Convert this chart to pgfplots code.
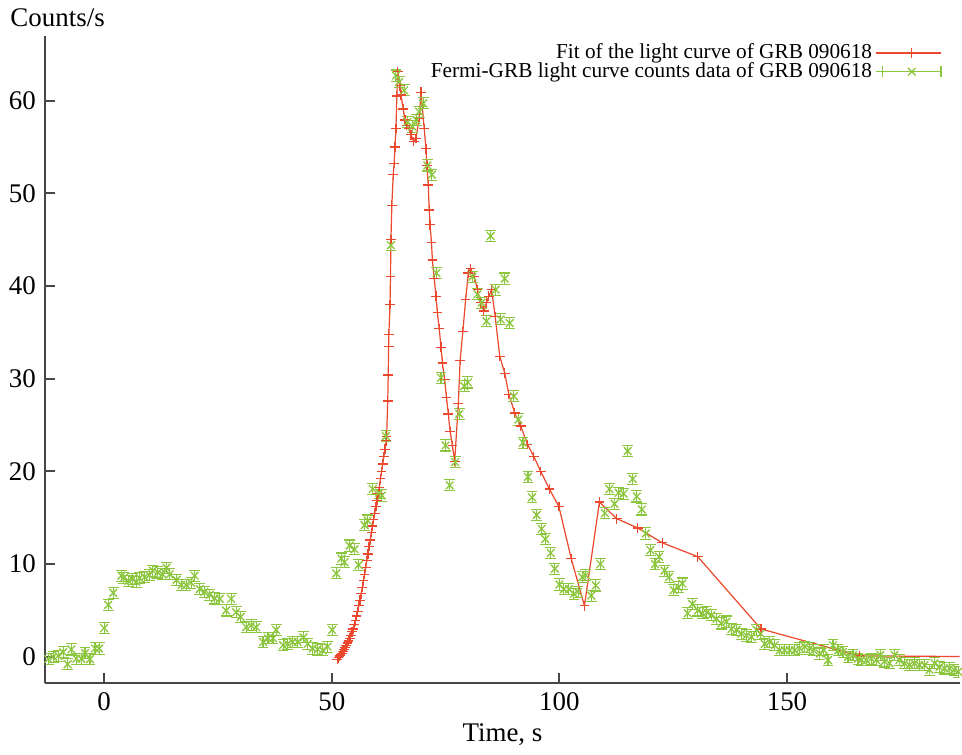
\documentclass[border=0pt]{standalone}
\usepackage{fontspec}
\setmainfont{Liberation Serif}
\usepackage{pgfplots}
\pgfplotsset{compat=1.18}
\definecolor{fitred}{RGB}{236,72,45}
\definecolor{datagreen}{RGB}{140,198,62}
\definecolor{axisgray}{RGB}{70,70,70}
\pgfplotsset{
  fitlegend/.style={legend image code/.code={
    \path (0pt,0pt) -- (2.5pt,0pt);
    \draw[mark repeat=2,mark phase=2,##1]
      plot coordinates {(2.5pt,0pt) (13.3pt,0pt) (24.1pt,0pt)};}},
  datalegend/.style={legend image code/.code={
    \path (0pt,0pt) -- (2.5pt,0pt);
    \draw[draw=datagreen, line width=0.5pt] (2.5pt,-2pt) -- (2.5pt,2pt)
      (2.5pt,0pt) -- (24.1pt,0pt) (24.1pt,-2pt) -- (24.1pt,2pt);
    \draw[mark repeat=2,mark phase=2,##1]
      plot coordinates {(2.5pt,0pt) (13.3pt,0pt) (24.1pt,0pt)};}},
}
\begin{document}
\begin{tikzpicture}
\begin{axis}[
  scale only axis,
  width=339.6pt, height=240.4pt,
  xmin=-12.9, xmax=187.9, ymin=-2.8, ymax=67,
  axis x line=bottom, axis y line=left,
  axis line style={-, line width=0.7pt, draw=axisgray},
  tick style={line width=0.7pt, draw=axisgray},
  tick align=inside, major tick length=3.5pt,
  xtick={0,50,100,150}, ytick={0,10,...,60},
  /pgf/number format/assume math mode=true,
  tick label style={font=\fontsize{10}{12}\selectfont},
  xlabel={Time, s},
  xlabel style={font=\fontsize{10}{12}\selectfont, yshift=2pt},
  ylabel={Counts/s},
  every axis y label/.style={at={(rel axis cs:0,1)}, anchor=base west,
    xshift=-16.5pt, yshift=3.3pt, font=\fontsize{10}{12}\selectfont},
  legend plot pos=right,
  legend cell align=right,
  legend style={at={(rel axis cs:1,1)}, anchor=north east, xshift=-3.5pt, yshift=0.5pt,
    draw=none, fill=none, font=\fontsize{7.9}{8}\selectfont,
    row sep=-2.5pt, nodes={inner sep=1.2pt}},
]
% fit of the light curve
\addplot[fitred, draw=fitred, line width=0.45pt, mark=+, mark size=1.8pt, fitlegend]
coordinates {
(51.2,-0.3) (51.45,-0.1) (51.7,0.1) (51.95,0.2) (52.2,0.4) (52.45,0.6)
(52.7,0.8) (52.95,1.0) (53.2,1.2) (53.45,1.5) (53.7,1.7) (53.95,2.0)
(54.2,2.3) (54.45,2.7) (54.7,3.0) (54.95,3.5) (55.2,3.9) (55.45,4.4)
(55.7,4.9) (55.95,5.5) (56.2,6.1) (56.45,6.8) (56.7,7.5) (56.95,8.2)
(57.2,8.9) (57.45,9.6) (57.7,10.4) (57.95,11.1) (58.2,11.9) (58.45,12.6)
(58.7,13.4) (58.95,14.1) (59.2,14.8) (59.45,15.5) (59.7,16.2) (59.95,16.9)
(60.2,17.6) (60.45,18.3) (60.7,19.2) (60.95,20.0) (61.2,20.8) (61.45,21.6)
(61.7,22.4) (61.95,23.3) (62.05,23.8) (62.3,27.6) (62.4,30.4) (62.5,33.5)
(62.55,34.8) (62.8,38) (62.9,41) (63.0,45) (63.2,48.7) (63.5,52)
(63.7,53.2) (63.9,55) (64.1,57) (64.3,60.5) (64.5,63.1) (65,61.6)
(65.2,60.6) (65.7,59.1) (66.1,57.9) (66.5,57.3) (67,57) (67.4,56.3)
(68,55.6) (68.5,55.9) (69.2,58.1) (69.6,60.9) (70.3,57) (70.7,54.8)
(70.9,53) (71.2,50.9) (71.4,48.2) (71.6,46.6) (71.9,44.7) (72.1,42.8)
(72.5,40.8) (72.9,38.9) (73.2,37.1) (73.6,35.4) (74,33.4) (74.3,31.7)
(74.8,29.9) (75.2,28) (75.6,26.2) (76,24.3) (76.5,22.8) (77,21.1)
(77.8,27.3) (78.2,32) (78.8,35.1) (79.4,38.5) (80,41.4) (80.5,41.9)
(81.3,41) (82,39.6) (82.7,38.2) (83.4,37.3) (84,38.2) (84.5,38.9)
(85.1,39.6) (85.9,36.7) (86.9,32.4) (88,30.6) (88.9,28.3) (90.2,26.3)
(91.5,24.9) (93,22.9) (94.4,21.6) (95.9,20) (97.8,18.1) (99.9,16.2)
(102.6,10.6) (105.5,5.5) (108.8,16.7) (112.6,14.9) (117.2,13.9) (122.6,12.3)
(130.4,10.8) (144.3,3.0) (165.9,0.1) (200,0)
};
\addlegendentry{Fit of the light curve of GRB 090618}
% Fermi-GRB counts data
\addplot[datagreen, draw=datagreen, only marks, mark=x, mark size=2pt, line width=0.5pt, datalegend,
  error bars/.cd, y dir=both, y fixed=0.6,
  error bar style={draw=datagreen},
  error mark options={rotate=90, mark size=2pt, draw=datagreen}]
coordinates {
(-12.3,-0.25) (-11.2,0) (-10.1,0.1) (-9,0.5) (-8,-0.8) (-7.2,0.8)
(-6.1,-0.2) (-5,-0.2) (-4.2,0.4) (-3.1,-0.25) (-2,0.9) (-1.1,0.9)
(0,3.1) (0.9,5.6) (2,6.9) (3.8,8.75) (4.3,8.5) (5.3,8.2) (6.2,8.4)
(7.1,8.1) (7.8,8.5) (8.9,8.6) (9.9,8.8) (10.7,9.3) (11.8,9.1) (12.8,8.9)
(13.7,9.6) (14.4,8.9) (15.9,8.3) (17,7.75) (18,7.75) (19.1,8.0) (19.9,8.75)
(21,7.3) (22,7.0) (23.2,6.7) (24.3,6.3) (25.4,6.25) (26.8,5.0) (27.9,6.25)
(29,4.8) (30,4.3) (31.2,3.2) (32.3,3.4) (33.4,3.2) (34.9,1.6) (36,2.0)
(37.1,2.0) (37.8,2.9) (39.3,1.25) (40.3,1.4) (41.4,1.6) (42.5,1.6) (43.8,2.1)
(44.7,1.4) (45.8,0.9) (46.9,0.8) (48,0.7) (49.1,1.1) (50.1,2.9) (51,9.0)
(52.1,10.6) (52.8,10.2) (53.9,12.0) (55,11.6) (55.9,9.9) (57.2,14.2) (57.9,14.7)
(59,18.1) (60.4,17.7) (61,17.4) (61.9,23.8) (63,44.4) (64.1,62.7) (64.8,62.0)
(65.9,61.1) (66.6,57.7) (67.7,57.2) (68.6,57.9) (69.2,58.8) (70.1,59.7) (71,53.0)
(72,52.0) (73,41.4) (74,30.1) (75,22.8) (75.9,18.5) (77.1,21.0) (78,26.2)
(79.1,29.2) (79.9,29.6) (80.9,41.0) (82,39.1) (82.9,38.2) (84,36.2) (84.9,45.4)
(86,39.6) (87.1,36.4) (88,40.8) (89.1,36.0) (90,28.1) (91,25.6) (92,23.1)
(93.1,19.4) (94,17.2) (95,15.3) (96.1,13.8) (96.9,12.7) (98.1,11.2) (99,9.5)
(100,7.8) (101,7.3) (102.1,7.3) (103.2,6.8) (104.1,7.0) (105,8.6) (105.8,8.8)
(107,6.6) (108,7.7) (109,10.0) (110,15.5) (111,18.1) (112.1,16.5) (113,17.7)
(114.1,17.6) (115,22.2) (116.1,19.2) (117,17.3) (118.1,15.9) (119,13.3) (120,11.5)
(121,10.0) (121.9,10.8) (123.1,9.3) (124.1,8.6) (125.1,7.2) (126.1,7.5) (127,7.9)
(128.2,4.7) (129.2,5.7) (130.4,5.0) (131.4,4.7) (132.4,4.8) (133.4,4.5) (134.5,4.1)
(135.6,3.6) (136.7,3.8) (137.8,3.0) (138.9,2.9) (140,2.5) (141.1,2.3) (142.2,2.15)
(143.3,2.9) (144.2,2.5) (145.1,1.4) (146.2,1.6) (147.3,1.25) (148.4,0.7) (149.5,0.7)
(150.6,0.7) (151.7,0.7) (152.8,0.9) (153.9,1.1) (155,0.9) (155.9,0.7) (157.2,0.35)
(158.1,0.7) (159,-0.35) (160.1,1.25) (161.2,0.7) (162.3,0.5) (163.4,0) (164.5,0.2)
(165.6,-0.2) (166.4,-0.35) (167.4,-0.35) (168.5,-0.2) (169.6,-0.35) (170.5,0.2) (171.4,-0.5)
(172.5,-0.7) (173.6,0.2) (174.7,-0.35) (175.8,-0.7) (176.9,-0.9) (178,-0.7) (179.1,-0.9)
(180.2,-0.9) (181.3,-1.4) (182.4,-0.7) (183.5,-1.1) (184.6,-1.25) (185.7,-1.25) (186.7,-1.4)
(187.6,-1.6)
};
\addlegendentry{Fermi-GRB light curve counts data of GRB 090618}
\end{axis}
\end{tikzpicture}
\end{document}
